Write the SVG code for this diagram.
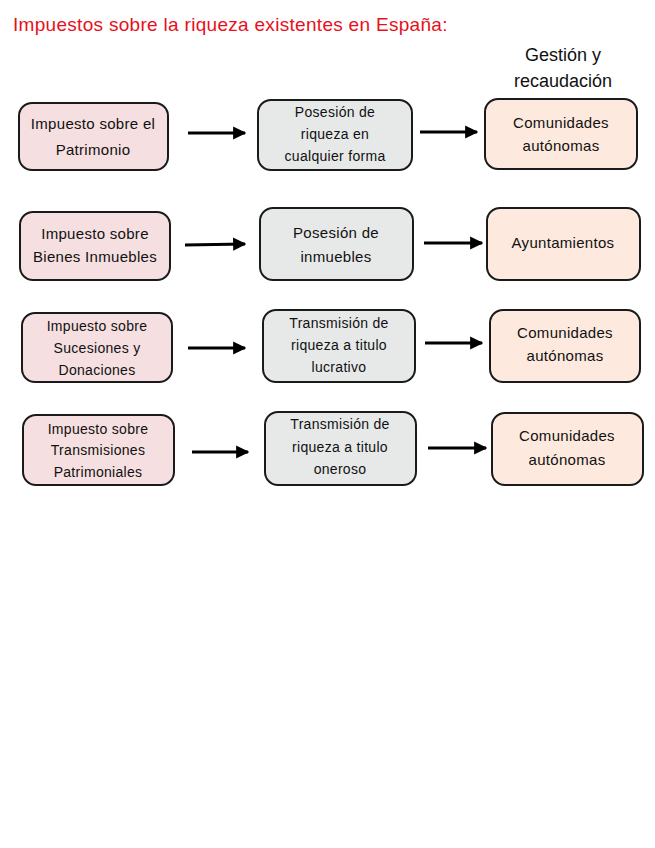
<svg xmlns="http://www.w3.org/2000/svg" width="655" height="848" viewBox="0 0 655 848">
<style>
text{font-family:"Liberation Sans",Arial,sans-serif;fill:#111;text-anchor:middle}
.title{font-size:19px;letter-spacing:0.3px;fill:#e8101a;text-anchor:start}
.hd{font-size:18px}
.t{font-size:15px;letter-spacing:0.3px}
.s{font-size:14px;letter-spacing:0.3px}
.box{stroke:#1a1a1a;stroke-width:2}
.tax{fill:#f5dfe0}
.obj{fill:#e7e9e9}
.adm{fill:#fde9de}
.conn line{stroke:#000;stroke-width:3}
</style>
<defs>
<marker id="ah" viewBox="0 0 10 10" refX="9" refY="5" markerWidth="4.4" markerHeight="4.6" orient="auto" markerUnits="strokeWidth">
<path d="M0,0 L10,5 L0,10 z" fill="#000"/>
</marker>
</defs>
<rect width="655" height="848" fill="#fff"/>
<text class="title" x="13" y="31">Impuestos sobre la riqueza existentes en España:</text>
<g id="header">
<text class="hd" x="563" y="61">Gestión y</text>
<text class="hd" x="563" y="87">recaudación</text>
</g>

<g id="n1a"><rect class="box tax" x="19" y="103" width="149" height="67" rx="13"/>
<text class="t" x="93" y="129">Impuesto sobre el</text><text class="t" x="93" y="155">Patrimonio</text></g>
<g id="n1b"><rect class="box obj" x="258" y="100" width="154" height="70" rx="13"/>
<text class="s" x="335" y="117">Posesión de</text><text class="s" x="335" y="139">riqueza en</text><text class="s" x="335" y="161">cualquier forma</text></g>
<g id="n1c"><rect class="box adm" x="485" y="99" width="152" height="70" rx="13"/>
<text class="t" x="561" y="128">Comunidades</text><text class="t" x="561" y="151">autónomas</text></g>

<g id="n2a"><rect class="box tax" x="20" y="212" width="150" height="68" rx="13"/>
<text class="t" x="95" y="239">Impuesto sobre</text><text class="t" x="95" y="262">Bienes Inmuebles</text></g>
<g id="n2b"><rect class="box obj" x="260" y="208" width="153" height="72" rx="13"/>
<text class="t" x="336" y="238">Posesión de</text><text class="t" x="336" y="262">inmuebles</text></g>
<g id="n2c"><rect class="box adm" x="487" y="208" width="153" height="72" rx="13"/>
<text class="t" x="563" y="248">Ayuntamientos</text></g>

<g id="n3a"><rect class="box tax" x="22" y="313" width="150" height="69" rx="13"/>
<text class="s" x="97" y="331">Impuesto sobre</text><text class="s" x="97" y="353">Sucesiones y</text><text class="s" x="97" y="375">Donaciones</text></g>
<g id="n3b"><rect class="box obj" x="263" y="310" width="152" height="72" rx="13"/>
<text class="s" x="339" y="328">Transmisión de</text><text class="s" x="339" y="350">riqueza a titulo</text><text class="s" x="339" y="372">lucrativo</text></g>
<g id="n3c"><rect class="box adm" x="490" y="310" width="150" height="72" rx="13"/>
<text class="t" x="565" y="338">Comunidades</text><text class="t" x="565" y="361">autónomas</text></g>

<g id="n4a"><rect class="box tax" x="23" y="415" width="151" height="70" rx="13"/>
<text class="s" x="98" y="434">Impuesto sobre</text><text class="s" x="98" y="455">Transmisiones</text><text class="s" x="98" y="477">Patrimoniales</text></g>
<g id="n4b"><rect class="box obj" x="265" y="412" width="151" height="73" rx="13"/>
<text class="s" x="340" y="429">Transmisión de</text><text class="s" x="340" y="452">riqueza a titulo</text><text class="s" x="340" y="474">oneroso</text></g>
<g id="n4c"><rect class="box adm" x="492" y="413" width="151" height="72" rx="13"/>
<text class="t" x="567" y="441">Comunidades</text><text class="t" x="567" y="465">autónomas</text></g>

<g class="conn" id="connectors">
<line x1="188" y1="133" x2="245" y2="133" marker-end="url(#ah)"/>
<line x1="420" y1="132" x2="477" y2="132" marker-end="url(#ah)"/>
<line x1="185" y1="245" x2="245" y2="244" marker-end="url(#ah)"/>
<line x1="424" y1="243" x2="482" y2="243" marker-end="url(#ah)"/>
<line x1="188" y1="348" x2="245" y2="348" marker-end="url(#ah)"/>
<line x1="425" y1="343" x2="482" y2="343" marker-end="url(#ah)"/>
<line x1="192" y1="452" x2="248" y2="452" marker-end="url(#ah)"/>
<line x1="428" y1="448" x2="486" y2="448" marker-end="url(#ah)"/>
</g>
</svg>
